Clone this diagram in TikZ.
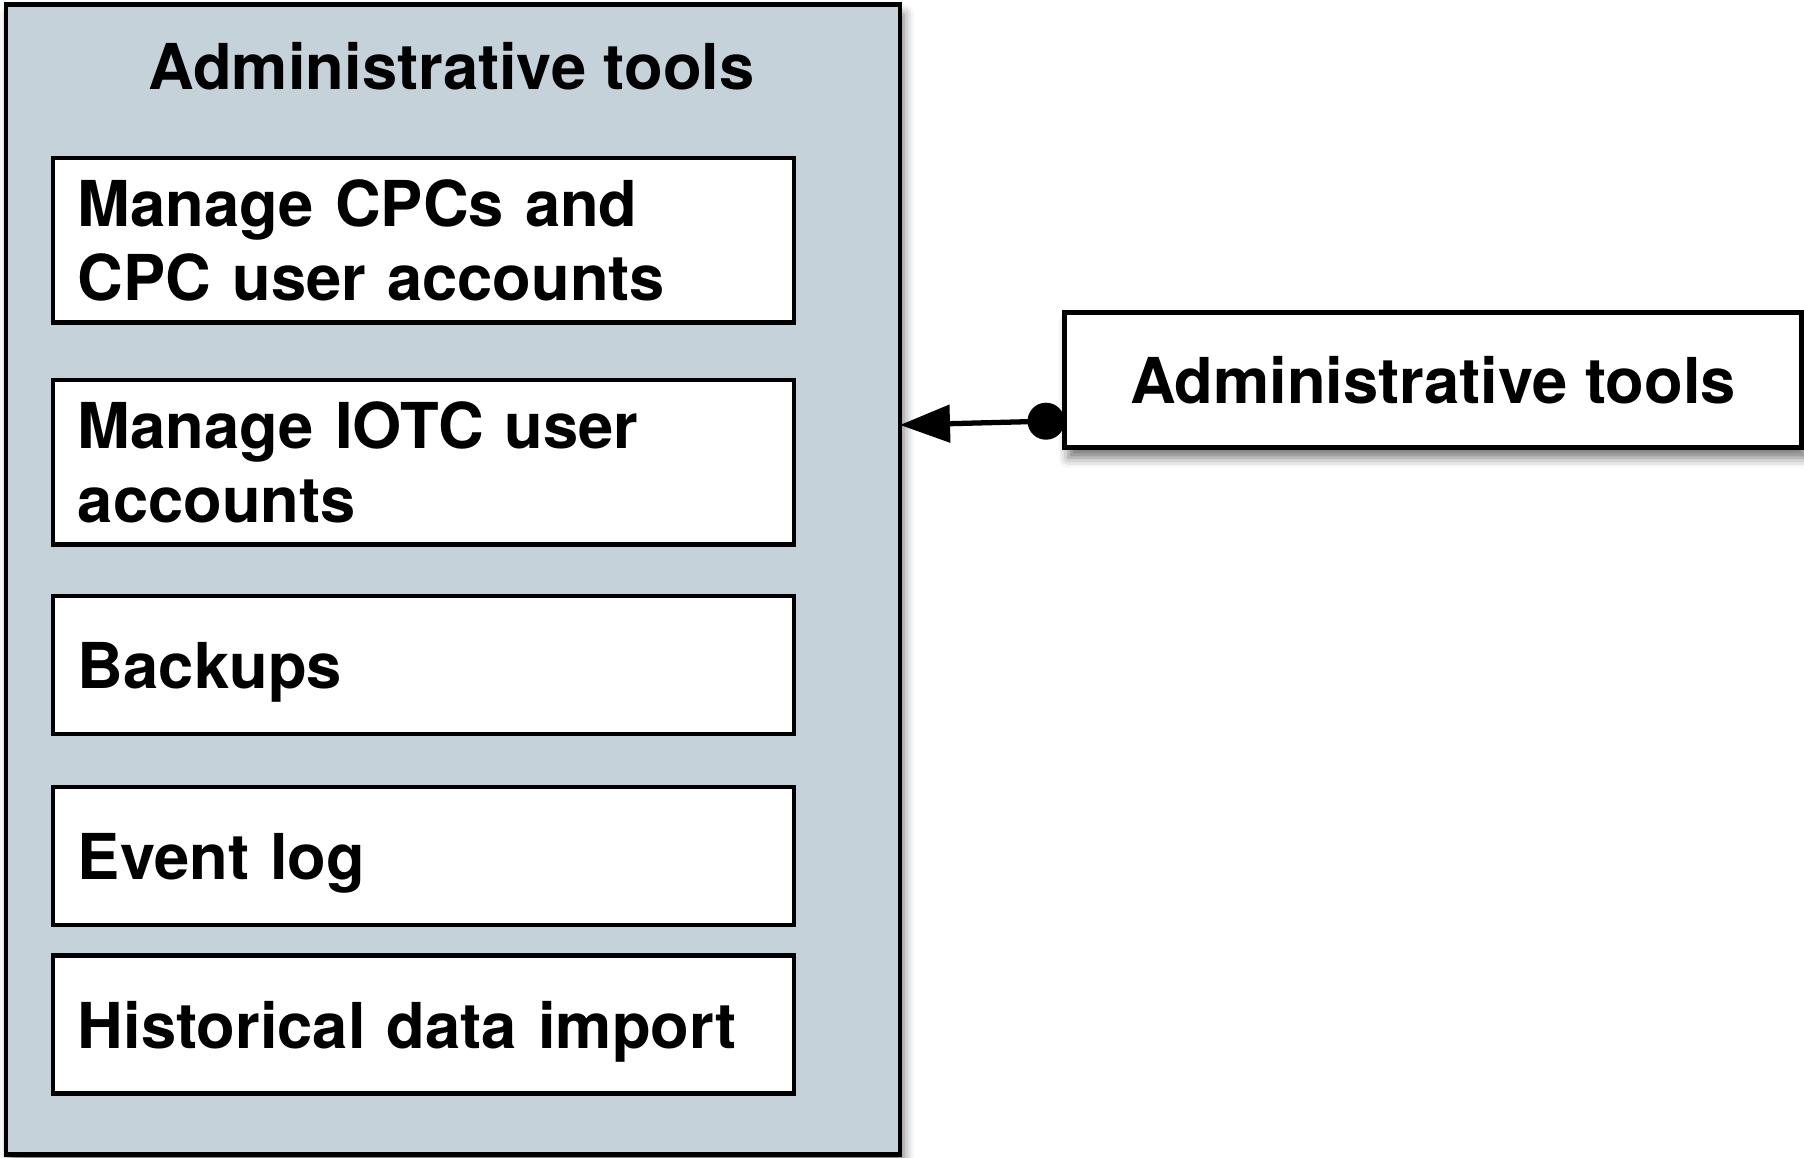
\documentclass[tikz,border=0pt]{standalone}
\usepackage{fontspec}
\setmainfont{TeX Gyre Heros}
\usepackage{xcolor}
\usepackage{tikz}
\usetikzlibrary{arrows.meta,shadows.blur}

\definecolor{panelgray}{RGB}{197,210,217}

\tikzset{
	lbl/.style={font=\fontsize{18}{21.1}\selectfont\bfseries},
	softshadow/.style={blur shadow={shadow xshift=0.04cm, shadow yshift=-0.1cm, shadow blur radius=0.1cm, shadow opacity=55}},
	toolbox/.style={lbl, draw, line width=1.4pt, fill=white, anchor=north west, outer sep=0pt,
		text width=6.91cm, inner xsep=0.25cm, align=left},
	tallbox/.style={toolbox, minimum height=1.645cm},
	shortbox/.style={toolbox, minimum height=1.38cm, text depth=0pt},
}

\begin{document}
\begin{tikzpicture}

\useasboundingbox (0,0) rectangle (18.04,11.58);

\node[draw, line width=1.4pt, fill=panelgray, softshadow, outer sep=0pt,
	minimum width=8.94cm, minimum height=11.50cm] (admin) at (4.53,5.785) {};
\node[lbl, anchor=base] (admintitle) at (4.515,10.68) {Administrative tools};

\node[tallbox] (cpc) at (0.53,10.00) {Manage CPCs and\\CPC user accounts};
\node[tallbox] (iotc) at (0.53,7.78) {Manage IOTC user\\accounts};
\node[shortbox] (backups) at (0.53,5.62) {Backups};
\node[shortbox] (eventlog) at (0.53,3.71) {Event log};
\node[shortbox] (histimport) at (0.53,2.025) {Historical data import};

\node[lbl, draw, line width=1.4pt, fill=white, softshadow, outer sep=0pt,
	minimum width=7.37cm, minimum height=1.355cm] (tools) at (14.33,7.78) {Administrative tools};

\draw[line width=1.5pt, {Circle[length=0.37cm]}-{Triangle[length=0.5cm,width=0.37cm]}]
	([yshift=0.27cm]tools.south west) -- ([yshift=1.545cm]admin.east);

\end{tikzpicture}
\end{document}
